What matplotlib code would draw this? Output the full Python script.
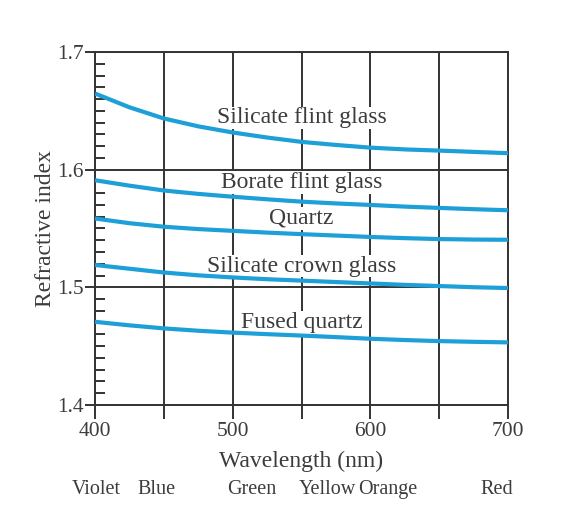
#-*- coding: utf-8 -*-

#‾‾‾‾‾‾‾‾‾‾‾‾‾‾‾‾‾‾‾‾‾‾‾‾‾‾‾‾‾‾‾‾‾‾‾‾‾‾‾‾‾‾‾‾‾‾‾‾‾‾‾‾‾‾‾‾‾‾‾‾‾‾‾‾‾‾‾‾‾
# ----- Include library -----
import numpy as np
import matplotlib
matplotlib.use("Agg")
import matplotlib.pyplot as plt
from matplotlib.ticker import MultipleLocator
#_____________________________________________________________________

#‾‾‾‾‾‾‾‾‾‾‾‾‾‾‾‾‾‾‾‾‾‾‾‾‾‾‾‾‾‾‾‾‾‾‾‾‾‾‾‾‾‾‾‾‾‾‾‾‾‾‾‾‾‾‾‾‾‾‾‾‾‾‾‾‾‾‾‾‾
# ----- Data -----
wavelength = [400, 425, 450, 475, 500, 525, 550, 575, 600, 625, 650, 675, 700]

silicate_flint = [1.6647, 1.6530, 1.6435, 1.6368, 1.6316, 1.6273, 1.6236,
                  1.6210, 1.6187, 1.6172, 1.6162, 1.6151, 1.6140]
borate_flint   = [1.5910, 1.5864, 1.5823, 1.5794, 1.5770, 1.5748, 1.5728,
                  1.5713, 1.5700, 1.5686, 1.5675, 1.5664, 1.5655]
quartz         = [1.5585, 1.5545, 1.5515, 1.5495, 1.5480, 1.5465, 1.5452,
                  1.5440, 1.5428, 1.5418, 1.5410, 1.5406, 1.5404]
silicate_crown = [1.5190, 1.5158, 1.5126, 1.5102, 1.5084, 1.5069, 1.5057,
                  1.5045, 1.5033, 1.5021, 1.5011, 1.5001, 1.4994]
fused_quartz   = [1.4707, 1.4677, 1.4651, 1.4631, 1.4615, 1.4602, 1.4590,
                  1.4577, 1.4563, 1.4552, 1.4543, 1.4537, 1.4532]

curve_names = ["Silicate flint glass", "Borate flint glass", "Quartz",
               "Silicate crown glass", "Fused quartz"]
label_y = [1.644, 1.589, 1.5586, 1.518, 1.470]

color_names = ["Violet", "Blue", "Green", "Yellow", "Orange", "Red"]
color_x = [401, 445, 514, 569, 613, 692]

x_ticks = [400, 450, 500, 550, 600, 650, 700]
x_tick_labels = ["400", "", "500", "", "600", "", "700"]
y_ticks = [1.4, 1.5, 1.6, 1.7]
#_____________________________________________________________________

LINE_COL = "#1d9fd8"
INK = "#333333"
TXT = "#3c3c3c"


def main_proc():
    plt.rcParams['font.family'] = ['Liberation Serif', 'DejaVu Serif']

    fig = plt.figure(figsize=(5.71, 5.24), dpi=100)
    ax = fig.add_axes([0.1664, 0.2271, 0.7233, 0.6737])

    # curves sit above the grid and the label boxes
    series = [silicate_flint, borate_flint, quartz, silicate_crown, fused_quartz]
    for s in series:
        ax.plot(wavelength, s, color=LINE_COL, lw=3.0, zorder=3,
                solid_capstyle='butt', solid_joinstyle='round')

    ax.set_xlim(400, 700)
    ax.set_ylim(1.4, 1.7)

    ax.set_axisbelow(False)   # grid at zorder 2.5
    ax.set_xticks(x_ticks)
    ax.set_xticklabels(x_tick_labels)
    ax.set_yticks(y_ticks)
    ax.set_yticklabels(["%.1f" % v for v in y_ticks])
    ax.yaxis.set_minor_locator(MultipleLocator(0.01))
    ax.grid(True, which='major', color=INK, lw=1.4)

    ax.tick_params(axis='x', which='major', direction='out', length=10,
                   width=1.4, color=INK, labelsize=15.5, labelcolor=TXT, pad=2)
    ax.tick_params(axis='y', which='major', direction='out', length=7,
                   width=1.4, color=INK, labelsize=15.5, labelcolor=TXT, pad=1)
    ax.tick_params(axis='y', which='minor', direction='in', length=7,
                   width=1.4, color=INK, left=True)
    for sp in ax.spines.values():
        sp.set_color(INK)
        sp.set_linewidth(1.4)

    # curve names with white background cutting the grid
    for name, yy in zip(curve_names, label_y):
        ax.text(550, yy, name, ha='center', va='center', fontsize=17,
                color=TXT, zorder=2.7,
                bbox=dict(facecolor='white', edgecolor='none', pad=0.5))

    ax.set_xlabel("Wavelength (nm)", fontsize=17, color=TXT, labelpad=7)
    ax.set_ylabel("Refractive index", fontsize=17, color=TXT, labelpad=1)

    # colour names under the axis
    trans = ax.get_xaxis_transform()
    for name, xx in zip(color_names, color_x):
        ax.text(xx, -0.24, name, transform=trans, ha='center', va='center',
                fontsize=14.5, color=TXT)

    fig.savefig("out.png", dpi=100, facecolor='white')
#_____________________________________________________________________

if __name__ == '__main__':
    main_proc()
